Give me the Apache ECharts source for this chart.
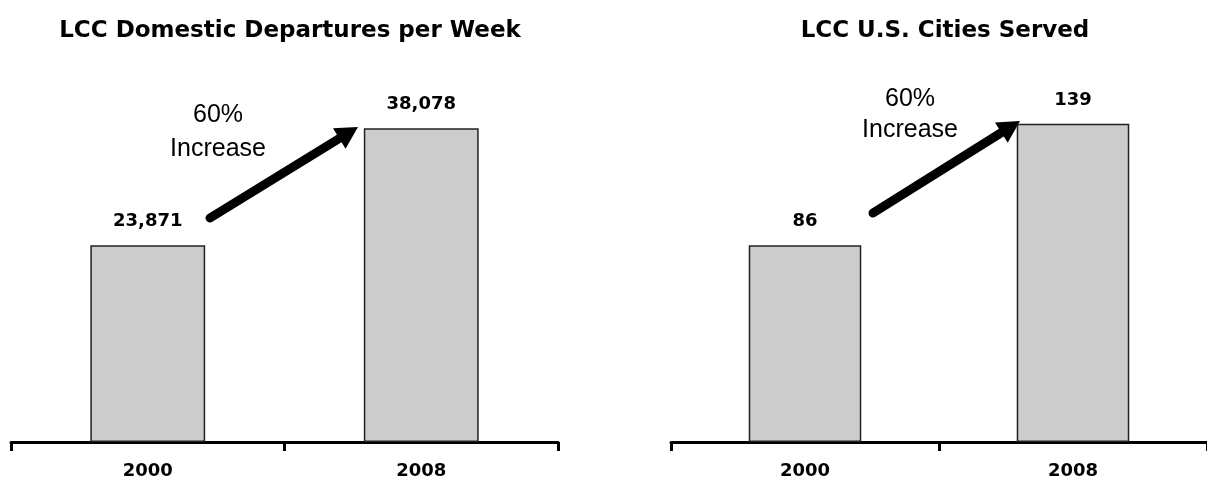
<!DOCTYPE html>
<html>
<head>
<meta charset="utf-8">
<script src="https://cdn.jsdelivr.net/npm/echarts@6/dist/echarts.min.js"></script>
<style>
html,body{margin:0;padding:0;background:#fff;}
#c{width:1207px;height:487px;}
</style>
</head>
<body>
<div id="c"></div>
<script>
const categories = ['2000', '2008'];
const departures = [23871, 38078];
const cities = [86, 139];
const titles = ['LCC Domestic Departures per Week', 'LCC U.S. Cities Served'];
const annotations = ['60%\nIncrease', '60%\nIncrease'];

const chart = echarts.init(document.getElementById('c'));
const font = 'Liberation Sans, Arial, sans-serif';
const heavy = 'DejaVu Sans, Liberation Sans, sans-serif';

function xAx(gi) {
  return {
    gridIndex: gi, type: 'category', data: categories,
    axisLine: { lineStyle: { color: '#000', width: 3 } },
    axisTick: { show: true, length: 9, lineStyle: { color: '#000', width: 3 } },
    axisLabel: { color: '#000', fontFamily: heavy, fontWeight: 'bold', fontSize: 18, margin: 20 }
  };
}
function yAx(gi, max) {
  return { gridIndex: gi, type: 'value', min: 0, max: max, show: false, splitLine: { show: false } };
}
function barSeries(gi, data) {
  return {
    type: 'bar', xAxisIndex: gi, yAxisIndex: gi, data: data, barWidth: '42%',
    itemStyle: { color: '#cccccc', borderColor: '#222', borderWidth: 1.5 },
    label: {
      show: true, position: 'top', distance: 15, color: '#000',
      fontFamily: heavy, fontWeight: 'bold', fontSize: 18,
      formatter: p => p.value.toLocaleString('en-US')
    },
    silent: true, animation: false
  };
}

function arrow(x1, y1, x2, y2) {
  const ang = Math.atan2(y2 - y1, x2 - x1);
  const hl = 22, hw = 12;
  const bx = x2 - hl * Math.cos(ang), by = y2 - hl * Math.sin(ang);
  const px = -Math.sin(ang), py = Math.cos(ang);
  return [
    { type: 'line', shape: { x1: x1, y1: y1, x2: bx, y2: by },
      style: { stroke: '#000', lineWidth: 9, lineCap: 'round' } },
    { type: 'polygon', shape: { points: [[x2, y2], [bx + px * hw, by + py * hw], [bx - px * hw, by - py * hw]] },
      style: { fill: '#000' } }
  ];
}

const option = {
  animation: false,
  title: [
    { text: titles[0], left: 285, top: 15, textAlign: 'center',
      textStyle: { fontFamily: heavy, fontWeight: 'bold', fontSize: 23, color: '#000' } },
    { text: titles[1], left: 940, top: 15, textAlign: 'center',
      textStyle: { fontFamily: heavy, fontWeight: 'bold', fontSize: 23, color: '#000' } }
  ],
  grid: [
    { left: 11, width: 547, top: 30, bottom: 45 },
    { left: 671, width: 542, top: 30, bottom: 45 }
  ],
  xAxis: [xAx(0), xAx(1)],
  yAxis: [yAx(0, 50000), yAx(1, 180)],
  series: [barSeries(0, departures), barSeries(1, cities)],
  graphic: [
    { type: 'text', x: 218, y: 98, style: { text: annotations[0], align: 'center',
      font: '25px ' + font, fill: '#000', lineHeight: 34 } },
    { type: 'text', x: 910, y: 84, style: { text: annotations[1], align: 'center',
      font: '25px ' + font, fill: '#000', lineHeight: 31 } }
  ].concat(arrow(210, 218, 358, 127), arrow(873, 213, 1020, 121))
};
chart.setOption(option);
</script>
</body>
</html>
